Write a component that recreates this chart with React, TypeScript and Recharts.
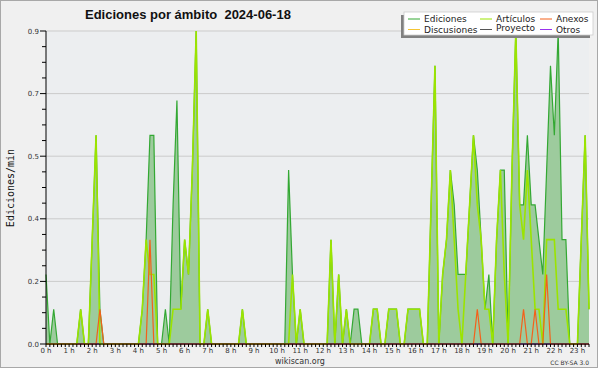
import React from 'react';
import { ComposedChart, Area, Line, XAxis, YAxis, CartesianGrid } from 'recharts';

// hour tick labels (one every 6 samples of 10 minutes)
const hourLabels = ['0 h','1 h','2 h','3 h','4 h','5 h','6 h','7 h','8 h','9 h','10 h','11 h','12 h','13 h','14 h','15 h','16 h','17 h','18 h','19 h','20 h','21 h','22 h','23 h'];

// y tick values and their labels
const yTickValues = [0, 0.18, 0.36, 0.54, 0.72, 0.9];
const yTickLabels = ['0.0', '0.2', '0.4', '0.5', '0.7', '0.9'];

// edits/min, 10-minute samples from 00:00 to 23:30
const ediciones = [
  0.2,0,0.1,0,0,0,0,0,0,0.1,
  0,0,0.3,0.6,0.1,0,0,0,0,0,
  0,0,0,0,0,0.1,0.3,0.6,0.6,0,
  0,0.1,0,0.4,0.7,0.1,0.3,0.2,0.5,0.9,
  0,0,0.1,0,0,0,0,0,0,0,
  0,0.1,0,0,0,0,0,0,0,0,
  0,0,0,0.5,0.2,0,0.1,0,0,0,
  0,0,0,0,0.3,0,0.2,0,0.1,0,
  0.1,0.1,0,0,0,0.1,0.1,0,0,0.1,
  0.1,0.1,0,0,0.1,0.1,0.1,0.1,0,0,
  0.4,0.8,0,0.2,0.3,0.5,0.4,0.2,0.2,0.2,
  0.4,0.6,0.5,0.3,0.1,0.2,0,0.3,0.5,0.5,
  0,0.5,0.9,0.4,0.4,0.6,0.4,0.4,0.3,0.2,
  0.5,0.8,0.6,0.9,0.3,0.3,0,0,0,0.3,
  0.6,0.1,
];
const articulos = [
  0,0,0,0,0,0,0,0,0,0.1,
  0,0,0.3,0.6,0,0,0,0,0,0,
  0,0,0,0,0,0.1,0.3,0.2,0.2,0,
  0,0,0,0.1,0.1,0.1,0.3,0.2,0.5,0.9,
  0,0,0.1,0,0,0,0,0,0,0,
  0,0.1,0,0,0,0,0,0,0,0,
  0,0,0,0,0.2,0,0.1,0,0,0,
  0,0,0,0,0.3,0,0.2,0,0.1,0,
  0,0,0,0,0,0.1,0.1,0,0,0.1,
  0.1,0.1,0,0,0.1,0.1,0.1,0.1,0,0,
  0.4,0.8,0,0.2,0.3,0.5,0.3,0.1,0,0.2,
  0.4,0.6,0.4,0.3,0.1,0.1,0,0.3,0.5,0.2,
  0,0.5,0.9,0.4,0.3,0.5,0.3,0.1,0.1,0,
  0.3,0.3,0.3,0.1,0.1,0.1,0,0,0,0.3,
  0.6,0.1,
];
const anexos = [
  0,0,0,0,0,0,0,0,0,0,
  0,0,0,0,0.1,0,0,0,0,0,
  0,0,0,0,0,0,0,0.3,0,0,
  0,0,0,0,0,0,0,0,0,0,
  0,0,0,0,0,0,0,0,0,0,
  0,0,0,0,0,0,0,0,0,0,
  0,0,0,0,0,0,0,0,0,0,
  0,0,0,0,0,0,0,0,0,0,
  0,0,0,0,0,0,0,0,0,0,
  0,0,0,0,0,0,0,0,0,0,
  0,0,0,0,0,0,0,0,0,0,
  0,0,0.1,0,0,0,0,0,0,0,
  0,0,0,0,0.1,0,0,0.1,0,0,
  0.2,0,0,0,0,0,0,0,0,0,
  0,0,
];
const discusiones = [
  0,0,0,0,0,0,0,0,0,0, 0,0,0,0,0,0,0,0,0,0, 0,0,0,0,0,0,0,0,0,0,
  0,0,0,0,0,0,0,0,0,0, 0,0,0,0,0,0,0,0,0,0, 0,0,0,0,0,0,0,0,0,0,
  0,0,0,0,0,0,0,0,0,0, 0,0,0,0,0,0,0,0,0,0, 0,0,0,0,0,0,0,0,0,0,
  0,0,0,0,0,0,0,0,0,0, 0,0,0,0,0,0,0,0,0,0, 0,0,0,0,0,0,0,0,0,0,
  0,0,0,0,0,0,0,0,0,0, 0,0,0,0,0,0,0,0,0,0, 0,0,
];
const proyecto = [
  0,0,0,0,0,0,0,0,0,0, 0,0,0,0,0,0,0,0,0,0, 0,0,0,0,0,0,0,0,0,0,
  0,0,0,0,0,0,0,0,0,0, 0,0,0,0,0,0,0,0,0,0, 0,0,0,0,0,0,0,0,0,0,
  0,0,0,0,0,0,0,0,0,0, 0,0,0,0,0,0,0,0,0,0, 0,0,0,0,0,0,0,0,0,0,
  0,0,0,0,0,0,0,0,0,0, 0,0,0,0,0,0,0,0,0,0, 0,0,0,0,0,0,0,0,0,0,
  0,0,0,0,0,0,0,0,0,0, 0,0,0,0,0,0,0,0,0,0, 0,0,
];
const otros = [
  0,0,0,0,0,0,0,0,0,0, 0,0,0,0,0,0,0,0,0,0, 0,0,0,0,0,0,0,0,0,0,
  0,0,0,0,0,0,0,0,0,0, 0,0,0,0,0,0,0,0,0,0, 0,0,0,0,0,0,0,0,0,0,
  0,0,0,0,0,0,0,0,0,0, 0,0,0,0,0,0,0,0,0,0, 0,0,0,0,0,0,0,0,0,0,
  0,0,0,0,0,0,0,0,0,0, 0,0,0,0,0,0,0,0,0,0, 0,0,0,0,0,0,0,0,0,0,
  0,0,0,0,0,0,0,0,0,0, 0,0,0,0,0,0,0,0,0,0, 0,0,
];

const COLORS = {
  ediciones: '#33a833',
  edicionesFill: '#9dcb9d',
  articulos: '#9be400',
  anexos: '#f4601a',
  discusiones: '#f5c534',
  proyecto: '#555555',
  otros: '#9933ee',
};

const data = ediciones.map((v, i) => ({
  i,
  ediciones: v,
  articulos: articulos[i],
  anexos: anexos[i],
  discusiones: discusiones[i],
  proyecto: proyecto[i],
  otros: otros[i],
}));

const xTicks = data.map((d) => d.i);
const yMinorTicks: number[] = [];
for (let k = 0; k <= 20; k++) yMinorTicks.push(Math.round(k * 0.045 * 1000) / 1000);

const FONT = "'DejaVu Sans', sans-serif";

const XTick = (props: any) => {
  const { x, payload } = props;
  const i = payload.value as number;
  if (i % 6 !== 0) return <g />;
  return (
    <text x={x} y={353} textAnchor="middle" fontSize={7} fontFamily={FONT} fill="#333">
      {hourLabels[i / 6]}
    </text>
  );
};

const YTick = (props: any) => {
  const { x, y, payload } = props;
  const v = payload.value as number;
  const idx = yTickValues.findIndex((t) => Math.abs(t - v) < 1e-6);
  const major = idx >= 0;
  return (
    <g>
      <line x1={x - (major ? 6 : 4)} x2={x} y1={y} y2={y} stroke="#000" strokeWidth={1} />
      {major && (
        <text x={x - 7} y={y + 2.5} textAnchor="end" fontSize={7} fontFamily={FONT} fill="#333">
          {yTickLabels[idx]}
        </text>
      )}
    </g>
  );
};

const legendItems = [
  { name: 'Ediciones', color: COLORS.ediciones, col: 0, row: 0 },
  { name: 'Artículos', color: COLORS.articulos, col: 1, row: 0 },
  { name: 'Anexos', color: COLORS.anexos, col: 2, row: 0 },
  { name: 'Discusiones', color: COLORS.discusiones, col: 0, row: 1 },
  { name: 'Proyecto', color: COLORS.proyecto, col: 1, row: 1 },
  { name: 'Otros', color: COLORS.otros, col: 2, row: 1 },
];
const legendColX = [408, 480, 540];
const legendRowY = [19, 29.5];

export default function App() {
  return (
    <div style={{ position: 'absolute', left: 0, top: 0, width: 600, height: 370, background: '#ffffff' }}>
      <div
        style={{
          position: 'absolute', left: 0, top: 0, width: 598, height: 368,
          background: '#f0f0f0', border: '1px solid #a8a8a8', boxSizing: 'border-box',
        }}
      />
      <div style={{ position: 'absolute', left: 0, top: 0 }}>
        <ComposedChart width={600} height={370} data={data} margin={{ top: 31, right: 11, bottom: 0, left: 6 }}>
          <CartesianGrid
            vertical={false}
            horizontalValues={[0.18, 0.36, 0.54, 0.72, 0.9]}
            stroke="#cbcbcb"
            fill="#eceef0"
            fillOpacity={1}
          />
          <Line dataKey="discusiones" type="linear" stroke={COLORS.discusiones} dot={false} isAnimationActive={false} />
          <Line dataKey="proyecto" type="linear" stroke={COLORS.proyecto} dot={false} isAnimationActive={false} />
          <Line dataKey="otros" type="linear" stroke={COLORS.otros} dot={false} isAnimationActive={false} />
          <Area
            dataKey="ediciones"
            type="linear"
            stroke={COLORS.ediciones}
            strokeWidth={1.2}
            fill={COLORS.edicionesFill}
            fillOpacity={1}
            dot={false}
            activeDot={false}
            isAnimationActive={false}
          />
          <Line dataKey="articulos" type="linear" stroke={COLORS.articulos} strokeWidth={1.6} dot={false} isAnimationActive={false} />
          <Line dataKey="anexos" type="linear" stroke={COLORS.anexos} strokeWidth={1.2} dot={false} isAnimationActive={false} />
          <XAxis
            dataKey="i"
            type="number"
            domain={[0, 141]}
            ticks={xTicks}
            interval={0}
            height={26}
            axisLine={{ stroke: '#000' }}
            tickLine={{ stroke: '#000' }}
            tickSize={3}
            tick={<XTick />}
          />
          <YAxis
            type="number"
            domain={[0, 0.9]}
            ticks={yMinorTicks}
            interval={0}
            width={40}
            axisLine={{ stroke: '#000' }}
            tickLine={false}
            tickSize={0}
            tickMargin={0}
            tick={<YTick />}
          />
        </ComposedChart>
      </div>
      <svg width={600} height={370} style={{ position: 'absolute', left: 0, top: 0, pointerEvents: 'none' }}>
        <text
          x={85}
          y={18.5}
          fontSize={13}
          fontWeight="bold"
          fontFamily="'Liberation Sans', Arial, sans-serif"
          fill="#111"
          style={{ whiteSpace: 'pre' }}
        >
          {'Ediciones por ámbito  2024-06-18'}
        </text>
        <text
          transform="translate(13.5,188) rotate(-90)"
          textAnchor="middle"
          fontSize={10}
          fontFamily="'DejaVu Sans Mono', monospace"
          fill="#111"
        >
          Ediciones/min
        </text>
        <rect x={401} y={15} width={189} height={23} fill="#808080" />
        <rect x={404} y={12} width={189} height={23} fill="#ffffff" stroke="#cccccc" strokeWidth={0.8} />
        {legendItems.map((it) => (
          <g key={it.name}>
            <line
              x1={legendColX[it.col]}
              x2={legendColX[it.col] + 12}
              y1={legendRowY[it.row]}
              y2={legendRowY[it.row]}
              stroke={it.color}
              strokeWidth={1}
            />
            <text
              x={legendColX[it.col] + 16}
              y={legendRowY[it.row] + (it.name === 'Proyecto' ? 1 : 3)}
              fontSize={9}
              fontFamily={FONT}
              fill="#222"
            >
              {it.name}
            </text>
          </g>
        ))}
        <text x={300} y={364} textAnchor="middle" fontSize={8} fontFamily={FONT} fill="#333">
          wikiscan.org
        </text>
        <text x={589} y={365} textAnchor="end" fontSize={6} fontFamily={FONT} fill="#333">
          CC BY-SA 3.0
        </text>
      </svg>
    </div>
  );
}
